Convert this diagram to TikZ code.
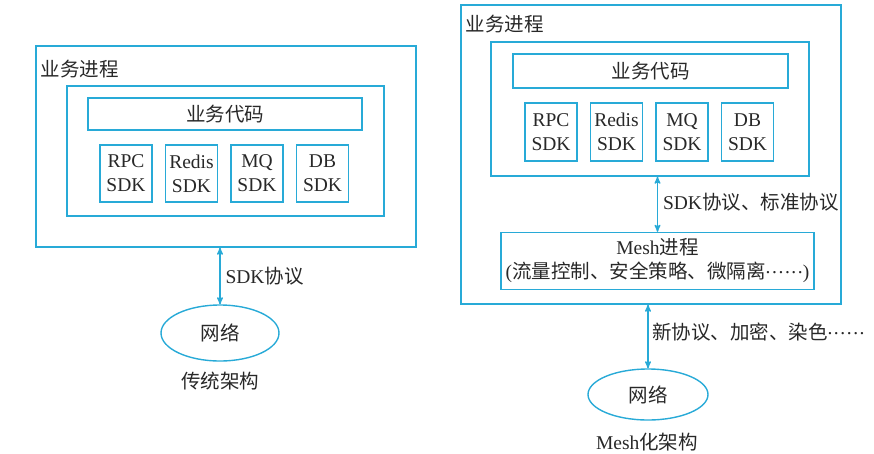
\documentclass[tikz,border=0pt]{standalone}
\usepackage{fontspec}
\setmainfont{Liberation Serif}
\newfontfamily\cjk{Noto Sans CJK SC}
\usetikzlibrary{arrows,positioning,shapes.geometric}
\definecolor{meshblue}{RGB}{40,170,215}
\definecolor{inkgray}{RGB}{40,40,40}
\newcommand{\zh}[1]{{\cjk #1}}
\newcommand{\dotsmid}{\raisebox{0.3em}{\makebox[1.9em]{.\hfill.\hfill.\hfill.\hfill.\hfill.}}}

\begin{document}
\begin{tikzpicture}[x=1pt,y=-1pt,>=stealth',node distance=65.5pt,font=\fontsize{19.5}{24}\selectfont,text=inkgray]
  \tikzstyle{box}=[draw=meshblue,line width=1.4pt,inner sep=0pt]
  \tikzstyle{sdk}=[box,minimum width=52pt,minimum height=57pt,align=center]
  \tikzstyle{net}=[box,ellipse]
  \tikzstyle{link}=[<->,draw=meshblue,line width=1.4pt]
  \useasboundingbox (0,0) rectangle (874,453);

  % traditional
  \node[box,minimum width=380pt,minimum height=201pt] (procL) at (226,146.5) {};
  \node[anchor=west] (procLtxt) at (37,69) {\zh{业务进程}};
  \node[box,minimum width=317pt,minimum height=130pt] (appL) at (225.5,151) {};
  \node[box,minimum width=274pt,minimum height=32pt] (codeL) at (225,114) {\zh{业务代码}};
  \node[sdk] (rpcL) at (126,173.5) {RPC\\SDK};
  \node[sdk] (redisL) [right of=rpcL] {Redis\\SDK};
  \node[sdk] (mqL) [right of=redisL] {MQ\\SDK};
  \node[sdk] (dbL) [right of=mqL] {DB\\SDK};
  \node[net,minimum width=118pt,minimum height=56pt] (netL) at (220,333) {\zh{网络}};
  \node (capL) at (220,381) {\zh{传统架构}};
  \draw[link] (netL.north) -- (netL.north |- procL.south) node[midway,right=1.5pt] {SDK\zh{协议}};

  % mesh
  \node[box,minimum width=380pt,minimum height=299pt] (procR) at (651,154.5) {};
  \node[anchor=west] (procRtxt) at (462,24) {\zh{业务进程}};
  \node[box,minimum width=318pt,minimum height=134pt] (appR) at (650,109) {};
  \node[box,minimum width=275pt,minimum height=34pt] (codeR) at (650.5,71) {\zh{业务代码}};
  \node[sdk,minimum height=58pt] (rpcR) at (551,132) {RPC\\SDK};
  \node[sdk,minimum height=58pt] (redisR) [right of=rpcR] {Redis\\SDK};
  \node[sdk,minimum height=58pt] (mqR) [right of=redisR] {MQ\\SDK};
  \node[sdk,minimum height=58pt] (dbR) [right of=mqR] {DB\\SDK};
  \node[box,minimum width=313pt,minimum height=57pt,align=center] (meshR) at (657.5,261)
    {Mesh\zh{进程}\\(\zh{流量控制、安全策略、微隔离}\dotsmid)};
  \node[net,minimum width=120pt,minimum height=51pt] (netR) at (648,394.5) {\zh{网络}};
  \node (capR) at (647,442) {Mesh\zh{化架构}};
  \draw[link] (meshR.north) -- (meshR.north |- appR.south) node[midway,right=1.5pt,yshift=2pt] {SDK\zh{协议、标准协议}};
  \draw[link] (netR.north) -- (netR.north |- procR.south) node[midway,right,yshift=4pt] {\zh{新协议、加密、染色}\dotsmid};
\end{tikzpicture}
\end{document}
